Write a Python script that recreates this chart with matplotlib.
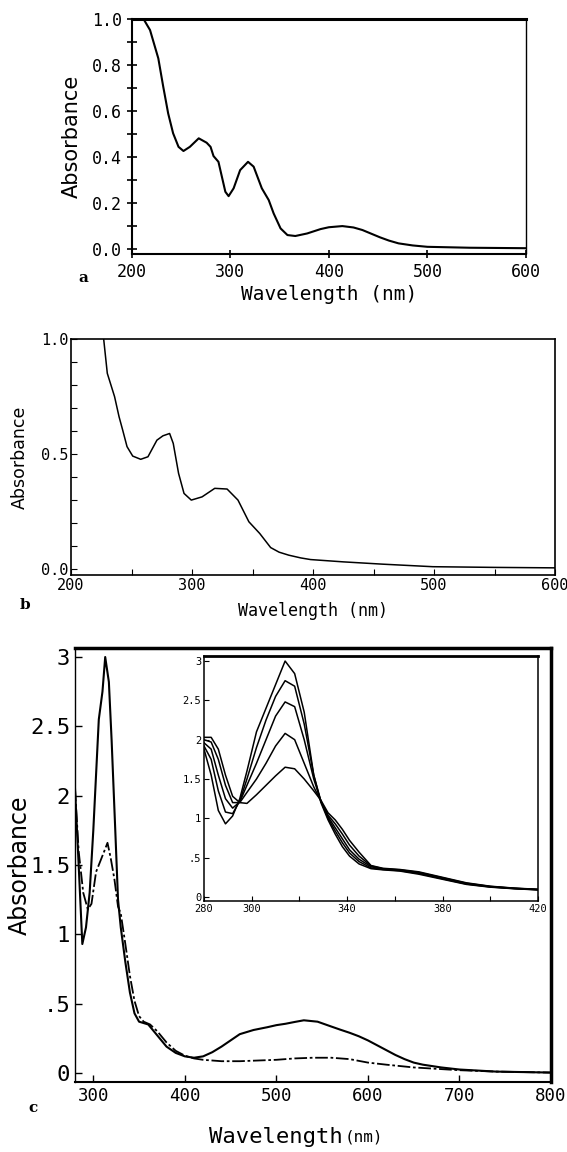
import matplotlib
matplotlib.use("Agg")
import matplotlib.pyplot as plt
import numpy as np

# ---- panel a: absorbance spectrum 200-600 nm
wl_a = [212, 218.6, 227, 232, 237, 242, 247.5, 252.5, 259, 268, 276, 280, 283, 288,
        291.5, 295, 298.3, 303.4, 310, 318, 323.7, 332, 339, 344, 351, 358, 366,
        378, 391.6, 400, 413.7, 425, 434, 443, 452, 461, 470.7, 485, 500, 543, 600]
abs_a = [1.0, 0.952, 0.829, 0.706, 0.59, 0.504, 0.445, 0.427, 0.445, 0.482, 0.463,
         0.445, 0.405, 0.38, 0.315, 0.25, 0.231, 0.265, 0.344, 0.38, 0.359, 0.265,
         0.214, 0.156, 0.091, 0.062, 0.058, 0.069, 0.088, 0.096, 0.101, 0.095,
         0.084, 0.068, 0.052, 0.038, 0.026, 0.017, 0.011, 0.007, 0.005]

# ---- panel b
wl_b = [227, 230, 236, 239.7, 242.7, 246.3, 251, 257.6, 263.6, 271, 276, 281.5,
        284.5, 288.9, 293.4, 299.4, 308.3, 318.8, 329, 338, 347, 356, 365, 372,
        380, 390, 398, 425, 457.6, 499, 550, 600]
abs_b = [1.0, 0.851, 0.75, 0.663, 0.605, 0.533, 0.492, 0.478, 0.489, 0.561, 0.58,
         0.59, 0.547, 0.417, 0.33, 0.301, 0.315, 0.352, 0.349, 0.301, 0.207, 0.156,
         0.095, 0.075, 0.062, 0.05, 0.043, 0.033, 0.023, 0.012, 0.009, 0.007]

# ---- panel c, main plot: first and last spectra
wl_c1 = [280, 284, 288, 292, 296, 300, 306, 310, 313, 317, 320, 324, 327, 330, 335,
         340, 345, 350, 355, 360, 370, 380, 390, 400, 410, 420, 430, 440, 450, 460,
         475, 490, 500, 510, 520, 530, 545, 560, 570, 580, 590, 600, 610, 620, 630,
         640, 650, 660, 680, 700, 740, 800]
abs_c1 = [2.05, 1.5, 0.93, 1.05, 1.3, 1.75, 2.55, 2.75, 3.0, 2.82, 2.4, 1.75, 1.25,
          1.05, 0.8, 0.58, 0.43, 0.37, 0.36, 0.35, 0.27, 0.19, 0.145, 0.12, 0.11,
          0.12, 0.15, 0.19, 0.235, 0.28, 0.31, 0.33, 0.345, 0.355, 0.368, 0.38,
          0.37, 0.335, 0.312, 0.29, 0.265, 0.235, 0.2, 0.165, 0.13, 0.1, 0.075,
          0.06, 0.04, 0.025, 0.01, 0.003]
wl_c2 = [280, 284, 289, 294, 298, 303, 309, 312, 315.5, 319, 323, 327, 330, 335, 340,
         345, 350, 355, 362, 370, 380, 390, 400, 410, 420, 440, 460, 480, 500, 520,
         540, 560, 580, 600, 620, 650, 700, 740, 800]
abs_c2 = [2.05, 1.6, 1.3, 1.18, 1.22, 1.45, 1.55, 1.6, 1.66, 1.55, 1.4, 1.2, 1.15,
          0.93, 0.7, 0.52, 0.41, 0.37, 0.35, 0.3, 0.22, 0.16, 0.125, 0.105, 0.095,
          0.085, 0.085, 0.09, 0.095, 0.105, 0.11, 0.11, 0.1, 0.075, 0.06, 0.04,
          0.02, 0.01, 0.003]

# ---- panel c, inset: series of 5 spectra 280-420 nm
wl_in = [280, 283, 286, 289, 292, 295, 298, 302, 306, 310, 314, 318, 322, 326, 329,
         332, 335, 338, 341, 345, 350, 355, 362, 370, 380, 390, 400, 410, 420]
inset_1 = [1.88, 1.55, 1.1, 0.93, 1.03, 1.25, 1.6, 2.1, 2.4, 2.7, 3.0, 2.84, 2.35,
           1.55, 1.2, 0.98, 0.8, 0.64, 0.52, 0.42, 0.36, 0.345, 0.33, 0.29, 0.225,
           0.16, 0.125, 0.105, 0.09]
inset_2 = [1.92, 1.75, 1.35, 1.08, 1.06, 1.22, 1.5, 1.9, 2.25, 2.55, 2.75, 2.68, 2.2,
           1.55, 1.22, 1.0, 0.84, 0.69, 0.56, 0.45, 0.37, 0.35, 0.335, 0.3, 0.232,
           0.165, 0.128, 0.107, 0.092]
inset_3 = [1.96, 1.88, 1.55, 1.25, 1.13, 1.21, 1.42, 1.7, 2.0, 2.3, 2.48, 2.42, 2.0,
           1.5, 1.22, 1.02, 0.88, 0.74, 0.6, 0.48, 0.385, 0.355, 0.34, 0.307, 0.238,
           0.17, 0.131, 0.109, 0.094]
inset_4 = [2.0, 1.97, 1.75, 1.42, 1.2, 1.2, 1.33, 1.5, 1.7, 1.92, 2.08, 2.0, 1.7,
           1.4, 1.22, 1.04, 0.93, 0.8, 0.66, 0.52, 0.395, 0.36, 0.345, 0.313, 0.244,
           0.175, 0.134, 0.111, 0.096]
inset_5 = [2.03, 2.03, 1.88, 1.55, 1.28, 1.2, 1.19, 1.3, 1.42, 1.54, 1.65, 1.63, 1.5,
           1.35, 1.23, 1.07, 0.98, 0.86, 0.72, 0.57, 0.4, 0.365, 0.35, 0.32, 0.25,
           0.18, 0.137, 0.113, 0.098]

mono = "DejaVu Sans Mono"
W, H = 567, 1152


def rect(l, t, r, b):
    return [l / W, 1 - b / H, (r - l) / W, (b - t) / H]


fig = plt.figure(figsize=(5.67, 11.52), dpi=100)

# ---------------- a
ax = fig.add_axes(rect(131.7, 19, 526, 253.5))
ax.plot(wl_a, abs_a, color="k", lw=1.5)
ax.set_xlim(200, 600)
ax.set_ylim(-0.018, 1.0)
ax.set_xticks([200, 300, 400, 500, 600])
ax.set_yticks([0, 0.2, 0.4, 0.6, 0.8, 1.0])
ax.set_yticks(np.arange(0.1, 1.0, 0.2), minor=True)
ax.set_yticklabels(["0.0", "0.2", "0.4", "0.6", "0.8", "1.0"])
ax.tick_params(axis="y", which="both", direction="inout", length=7, width=1.2)
ax.tick_params(axis="x", direction="inout", length=6, width=1.2)
for lab in ax.get_xticklabels() + ax.get_yticklabels():
    lab.set_family(mono)
    lab.set_fontsize(12)
ax.set_ylabel("Absorbance", fontsize=15)
ax.yaxis.set_label_coords(-0.127, 0.5)
ax.set_xlabel("Wavelength (nm)", family=mono, fontsize=14)
ax.xaxis.set_label_coords(0.5, -0.135)
ax.spines["top"].set_linewidth(2.2)
ax.spines["left"].set_linewidth(1.5)
ax.spines["bottom"].set_linewidth(1.5)
ax.spines["right"].set_linewidth(1.0)
fig.text(83 / W, 1 - 278 / H, "a", fontsize=11, fontweight="bold",
         family="DejaVu Serif", ha="center", va="center")

# ---------------- b
ax = fig.add_axes(rect(71, 339, 555, 575))
ax.plot(wl_b, abs_b, color="k", lw=1.1)
ax.set_xlim(200, 600)
ax.set_ylim(-0.024, 1.0)
ax.set_xticks([200, 300, 400, 500, 600])
ax.set_xticks(np.arange(250, 600, 100), minor=True)
ax.set_yticks([0, 0.5, 1.0])
ax.set_yticks(np.arange(0.1, 1.0, 0.1), minor=True)
ax.set_yticklabels(["0.0", "0.5", "1.0"])
ax.tick_params(which="both", direction="in", length=4, width=0.8, pad=2)
for lab in ax.get_xticklabels() + ax.get_yticklabels():
    lab.set_family(mono)
    lab.set_fontsize(11)
ax.set_ylabel("Absorbance", fontsize=12.5)
ax.yaxis.set_label_coords(-0.087, 0.5)
ax.set_xlabel("Wavelength (nm)", family=mono, fontsize=12)
ax.xaxis.set_label_coords(0.5, -0.115)
for s in ax.spines.values():
    s.set_linewidth(1.2)
fig.text(25 / W, 1 - 605 / H, "b", fontsize=11, fontweight="bold",
         family="DejaVu Serif", ha="center", va="center")

# ---------------- c
ax = fig.add_axes(rect(75, 648, 551, 1082))
ax.plot(wl_c1, abs_c1, color="k", lw=1.5)
ax.plot(wl_c2, abs_c2, color="k", lw=1.3, ls=(0, (7, 1.5, 1.5, 1.5)))
ax.set_xlim(280, 800)
ax.set_ylim(-0.065, 3.065)
ax.set_xticks([300, 400, 500, 600, 700, 800])
ax.set_yticks([0, 0.5, 1, 1.5, 2, 2.5, 3])
ax.set_yticklabels(["0", ".5", "1", "1.5", "2", "2.5", "3"])
ax.tick_params(direction="in", length=5, width=1.0)
for lab in ax.get_yticklabels():
    lab.set_family(mono)
    lab.set_fontsize(16)
for lab in ax.get_xticklabels():
    lab.set_family(mono)
    lab.set_fontsize(12.5)
ax.set_ylabel("Absorbance", fontsize=17)
ax.yaxis.set_label_coords(-0.09, 0.5)
ax.text(0.562, -0.127, "Wavelength", transform=ax.transAxes, family=mono,
        fontsize=16, ha="right", va="center")
ax.text(0.566, -0.127, "(nm)", transform=ax.transAxes, family=mono,
        fontsize=11.5, ha="left", va="center")
ax.spines["top"].set_linewidth(2.5)
ax.spines["right"].set_linewidth(2.5)
ax.spines["left"].set_linewidth(1.0)
ax.spines["bottom"].set_linewidth(1.5)
fig.text(33 / W, 1 - 1108 / H, "c", fontsize=11, fontweight="bold",
         family="DejaVu Serif", ha="center", va="center")

# inset
ins = fig.add_axes(rect(204, 656, 538, 901))
for ys in (inset_1, inset_2, inset_3, inset_4, inset_5):
    ins.plot(wl_in, ys, color="k", lw=1.1)
ins.set_xlim(280, 420)
ins.set_ylim(-0.051, 3.064)
ins.set_xticks([280, 300, 340, 380, 420])
ins.set_xticks([320, 360, 400], minor=True)
ins.set_yticks([0, 0.5, 1, 1.5, 2, 2.5, 3])
ins.set_yticklabels(["0", ".5", "1", "1.5", "2", "2.5", "3"])
ins.tick_params(which="both", direction="in", length=3.5, width=0.8, pad=2)
for lab in ins.get_xticklabels() + ins.get_yticklabels():
    lab.set_family(mono)
    lab.set_fontsize(7.5)
ins.spines["top"].set_linewidth(2.0)
for s in ("left", "bottom", "right"):
    ins.spines[s].set_linewidth(1.1)

fig.savefig("out.png", dpi=100)
